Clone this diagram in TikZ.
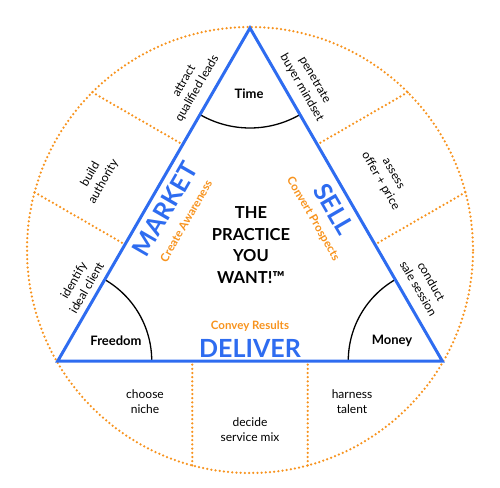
\documentclass[tikz,border=0pt]{standalone}
\usepackage{fontspec}
\setmainfont{Lato}
\usetikzlibrary{calc}
\definecolor{triblue}{RGB}{46,108,240}
\definecolor{dotorange}{RGB}{247,147,30}
\begin{document}
\begin{tikzpicture}[x=1pt, y=1pt,
    side/.style={draw=triblue, line width=3pt, line join=miter},
    dotline/.style={draw=dotorange, line width=2.5pt, line cap=round, dash pattern=on 0pt off 4.2pt},
    corner/.style={font=\bfseries\fontsize{13}{15}\selectfont},
    task/.style={align=center, font=\fontsize{12}{15}\selectfont},
    pillar/.style={text=triblue, font=\bfseries\fontsize{25}{26}\selectfont},
    outcome/.style={text=dotorange, font=\bfseries\fontsize{11.5}{12}\selectfont}]
\useasboundingbox (0,0) rectangle (500,-487);
\coordinate (O) at (250,-250);
\coordinate (T) at ($(O)+(90:222)$);
\coordinate (L) at ($(O)+(210:222)$);
\coordinate (R) at ($(O)+(330:222)$);
\draw[dotline] (O) circle (223);
\foreach \a/\p/\q in {255/L/R, 285/L/R, 15/T/R, 45/T/R, 135/T/L, 165/T/L} {
  \coordinate (P) at ($(O)+(\a:223)$);
  \draw[dotline] (P) -- ($(\p)!(P)!(\q)$);
}
\draw[line width=1.3pt] ($(T)+(240:100)$) arc (240:300:100);
\draw[line width=1.3pt] ($(L)+(0:94)$) arc (0:60:94);
\draw[line width=1.3pt] ($(R)+(120:94)$) arc (120:180:94);
\draw[side] (T) -- (L) -- (R) -- cycle;
\node[corner] (time) at (249,-94) {Time};
\node[corner] (freedom) at (116,-341) {Freedom};
\node[corner] (money) at (392,-341) {Money};
\node[align=center, font=\bfseries\fontsize{16.5}{21.7}\selectfont] (goal) at (251,-245) {THE\\PRACTICE\\YOU\\WANT!™};
\node[pillar, rotate=60] (market) at (165,-209) {MARKET};
\node[outcome, rotate=60] (awareness) at (186,-221) {Create Awareness};
\node[pillar, rotate=-60] (sell) at (334,-209) {SELL};
\node[outcome, rotate=-60] (prospects) at (313,-219) {Convert Prospects};
\node[pillar] (deliver) at (250,-348) {DELIVER};
\node[outcome] (results) at (250,-326) {Convey Results};
\node[task, rotate=60] (attract) at (191,-85) {attract\\qualified leads};
\node[task, rotate=60] (build) at (97,-178) {build\\authority};
\node[task, rotate=60] (identify) at (80,-284) {identify\\ideal client};
\node[task, rotate=-60] (penetrate) at (308,-84) {penetrate\\buyer mindset};
\node[task, rotate=-60] (assess) at (386,-178) {assess\\offer + price};
\node[task, rotate=-60] (conduct) at (425,-285) {conduct\\sale session};
\node[task] (choose) at (145,-402) {choose\\niche};
\node[task] (decide) at (250,-430) {decide\\service mix};
\node[task] (harness) at (352,-402) {harness\\talent};
\end{tikzpicture}
\end{document}
